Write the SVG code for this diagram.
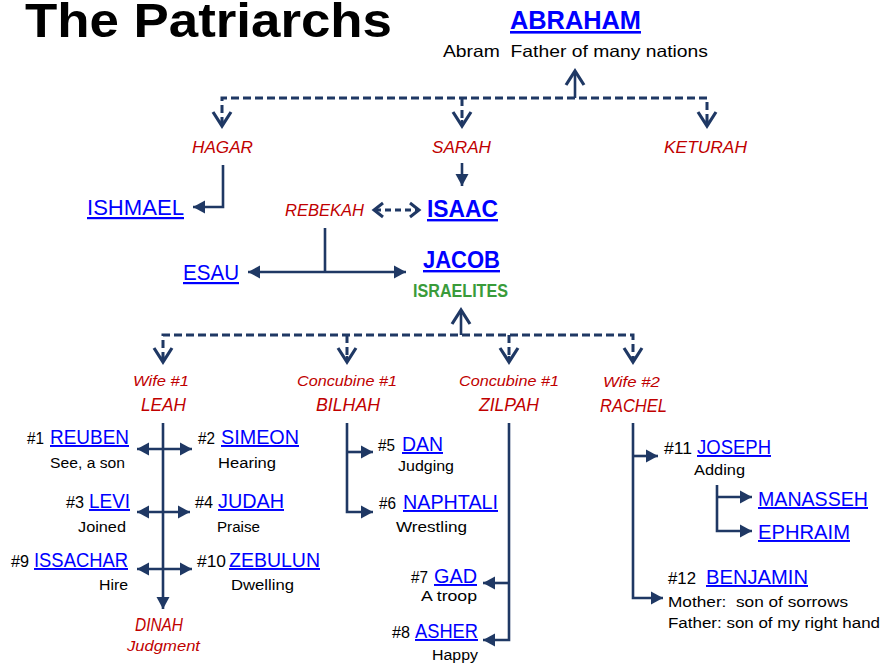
<svg xmlns="http://www.w3.org/2000/svg" width="883" height="665" viewBox="0 0 883 665">
<defs>
<style>
text{font-family:"Liberation Sans",Arial,sans-serif;white-space:pre}
.title{font-size:48px;font-weight:bold;fill:#000}
.link{fill:#0000FF;text-decoration:underline}
.big{font-weight:bold}
.name{font-size:19.5px}
.num{font-size:16px;fill:#000}
.sub{font-size:15.5px;fill:#000}
.red{fill:#C00000;font-style:italic}
.green{fill:#3A9B3A;font-weight:bold}
.ln{fill:none;stroke:#1F3864;stroke-width:2.6}
.dash{fill:none;stroke:#1F3864;stroke-width:3;stroke-dasharray:8 4}
</style>
<marker id="chev" markerUnits="userSpaceOnUse" markerWidth="40" markerHeight="40" refX="0" refY="0" viewBox="-20 -20 40 40" orient="auto" overflow="visible">
<path d="M-14,-9 L0,0 L-14,9" fill="none" stroke="#1F3864" stroke-width="3.2" stroke-linejoin="miter"/>
</marker>
<marker id="chevs" markerUnits="userSpaceOnUse" markerWidth="40" markerHeight="40" refX="0" refY="0" viewBox="-20 -20 40 40" orient="auto-start-reverse" overflow="visible">
<path d="M-9,-7 L0,0 L-9,7" fill="none" stroke="#1F3864" stroke-width="3" stroke-linejoin="miter"/>
</marker>
<marker id="tri" markerUnits="userSpaceOnUse" markerWidth="40" markerHeight="40" refX="0" refY="0" viewBox="-20 -20 40 40" orient="auto-start-reverse" overflow="visible">
<path d="M-12,-6.5 L0,0 L-12,6.5 Z" fill="#1F3864"/>
</marker>
</defs>
<rect width="883" height="665" fill="#fff"/>

<g id="connectors">
<!-- Abraham -->
<path class="ln" d="M575,98 L575,71" marker-end="url(#chev)"/>
<path class="dash" d="M222,125 L222,98 L707,98 L707,125"/>
<path class="ln" d="M222,120 L222,126" marker-end="url(#chev)"/>
<path class="dash" d="M462,98 L462,125"/>
<path class="ln" d="M462,120 L462,126" marker-end="url(#chev)"/>
<path class="ln" d="M707,120 L707,126" marker-end="url(#chev)"/>
<!-- Hagar to Ishmael -->
<path class="ln" d="M223,165 L223,207 L193,207" marker-end="url(#tri)"/>
<!-- Sarah to Isaac -->
<path class="ln" d="M462,163 L462,186" marker-end="url(#tri)"/>
<!-- Rebekah and Isaac -->
<path class="dash" d="M375,210 L418,210" style="stroke-dasharray:6 4"/>
<path class="ln" d="M374,210 L376,210" marker-start="url(#chevs)"/>
<path class="ln" d="M417,210 L419,210" marker-end="url(#chevs)"/>
<!-- Esau / Jacob -->
<path class="ln" d="M325,228 L325,272"/>
<path class="ln" d="M248,272 L406,272" marker-start="url(#tri)" marker-end="url(#tri)"/>
<!-- Jacob tribes -->
<path class="ln" d="M461,335 L461,310" marker-end="url(#chev)"/>
<path class="dash" d="M163,360 L163,335 L633,335 L633,360"/>
<path class="dash" d="M347,335 L347,360"/>
<path class="dash" d="M509,335 L509,360"/>
<path class="ln" d="M163,356 L163,362" marker-end="url(#chev)"/>
<path class="ln" d="M347,356 L347,362" marker-end="url(#chev)"/>
<path class="ln" d="M509,356 L509,362" marker-end="url(#chev)"/>
<path class="ln" d="M633,356 L633,362" marker-end="url(#chev)"/>
<!-- Leah -->
<path class="ln" d="M163,423 L163,609" marker-end="url(#tri)"/>
<path class="ln" d="M137,449 L192,449" marker-start="url(#tri)" marker-end="url(#tri)"/>
<path class="ln" d="M137,512 L190,512" marker-start="url(#tri)" marker-end="url(#tri)"/>
<path class="ln" d="M137,569 L192,569" marker-start="url(#tri)" marker-end="url(#tri)"/>
<!-- Bilhah -->
<path class="ln" d="M347,423 L347,512 L373,512" marker-end="url(#tri)"/>
<path class="ln" d="M347,452 L373,452" marker-end="url(#tri)"/>
<!-- Zilpah -->
<path class="ln" d="M509,423 L509,640 L483,640" marker-end="url(#tri)"/>
<path class="ln" d="M509,583 L483,583" marker-end="url(#tri)"/>
<!-- Rachel -->
<path class="ln" d="M633,423 L633,598 L663,598" marker-end="url(#tri)"/>
<path class="ln" d="M633,456 L658,456" marker-end="url(#tri)"/>
<!-- Joseph -->
<path class="ln" d="M717,485 L717,531 L752,531" marker-end="url(#tri)"/>
<path class="ln" d="M717,497 L752,497" marker-end="url(#tri)"/>
</g>

<g id="title"><text class="title" x="25" y="37" textLength="367" lengthAdjust="spacingAndGlyphs">The Patriarchs</text></g>

<g id="abraham">
<text class="link big" x="510" y="29" font-size="26" textLength="131" lengthAdjust="spacingAndGlyphs">ABRAHAM</text>
<text x="443" y="57" font-size="16.5" textLength="265" lengthAdjust="spacingAndGlyphs">Abram  Father of many nations</text>
</g>
<g id="hagar"><text class="red" x="192" y="153" font-size="16.5" textLength="61" lengthAdjust="spacingAndGlyphs">HAGAR</text></g>
<g id="sarah"><text class="red" x="432" y="153" font-size="16.5" textLength="59" lengthAdjust="spacingAndGlyphs">SARAH</text></g>
<g id="keturah"><text class="red" x="664" y="153" font-size="16.5" textLength="83" lengthAdjust="spacingAndGlyphs">KETURAH</text></g>
<g id="ishmael"><text class="link" x="87" y="215" font-size="22" textLength="97" lengthAdjust="spacingAndGlyphs">ISHMAEL</text></g>
<g id="rebekah"><text class="red" x="285" y="216" font-size="16.5" textLength="79" lengthAdjust="spacingAndGlyphs">REBEKAH</text></g>
<g id="isaac"><text class="link big" x="427" y="217" font-size="24" textLength="71" lengthAdjust="spacingAndGlyphs">ISAAC</text></g>
<g id="esau"><text class="link" x="183" y="280" font-size="22" textLength="56" lengthAdjust="spacingAndGlyphs">ESAU</text></g>
<g id="jacob">
<text class="link big" x="423" y="268" font-size="24" textLength="77" lengthAdjust="spacingAndGlyphs">JACOB</text>
<text class="green" x="413" y="297" font-size="17.5" textLength="95" lengthAdjust="spacingAndGlyphs">ISRAELITES</text>
</g>

<g id="leah">
<text class="red" x="133" y="386" font-size="15.5" textLength="56" lengthAdjust="spacingAndGlyphs">Wife #1</text>
<text class="red" x="141" y="411" font-size="17.5" textLength="45" lengthAdjust="spacingAndGlyphs">LEAH</text>
</g>
<g id="bilhah">
<text class="red" x="297" y="386" font-size="15.5" textLength="100" lengthAdjust="spacingAndGlyphs">Concubine #1</text>
<text class="red" x="316" y="411" font-size="17.5" textLength="64" lengthAdjust="spacingAndGlyphs">BILHAH</text>
</g>
<g id="zilpah">
<text class="red" x="459" y="386" font-size="15.5" textLength="100" lengthAdjust="spacingAndGlyphs">Concubine #1</text>
<text class="red" x="479" y="411" font-size="17.5" textLength="60" lengthAdjust="spacingAndGlyphs">ZILPAH</text>
</g>
<g id="rachel">
<text class="red" x="603" y="387" font-size="15.5" textLength="57" lengthAdjust="spacingAndGlyphs">Wife #2</text>
<text class="red" x="600" y="412" font-size="17.5" textLength="67" lengthAdjust="spacingAndGlyphs">RACHEL</text>
</g>

<g id="reuben">
<text class="num" x="27" y="444" textLength="17" lengthAdjust="spacingAndGlyphs">#1</text>
<text class="link name" x="50" y="444" textLength="79" lengthAdjust="spacingAndGlyphs">REUBEN</text>
<text class="sub" x="50" y="468" textLength="75" lengthAdjust="spacingAndGlyphs">See, a son</text>
</g>
<g id="simeon">
<text class="num" x="198" y="444" textLength="17" lengthAdjust="spacingAndGlyphs">#2</text>
<text class="link name" x="221" y="444" textLength="78" lengthAdjust="spacingAndGlyphs">SIMEON</text>
<text class="sub" x="218" y="468" textLength="58" lengthAdjust="spacingAndGlyphs">Hearing</text>
</g>
<g id="levi">
<text class="num" x="66" y="508" textLength="18" lengthAdjust="spacingAndGlyphs">#3</text>
<text class="link name" x="89" y="508" textLength="41" lengthAdjust="spacingAndGlyphs">LEVI</text>
<text class="sub" x="78" y="532" textLength="48" lengthAdjust="spacingAndGlyphs">Joined</text>
</g>
<g id="judah">
<text class="num" x="195" y="508" textLength="18" lengthAdjust="spacingAndGlyphs">#4</text>
<text class="link name" x="218" y="508" textLength="66" lengthAdjust="spacingAndGlyphs">JUDAH</text>
<text class="sub" x="217" y="532" textLength="43" lengthAdjust="spacingAndGlyphs">Praise</text>
</g>
<g id="issachar">
<text class="num" x="11" y="567" textLength="18" lengthAdjust="spacingAndGlyphs">#9</text>
<text class="link name" x="34" y="567" textLength="94" lengthAdjust="spacingAndGlyphs">ISSACHAR</text>
<text class="sub" x="99" y="590" textLength="29" lengthAdjust="spacingAndGlyphs">Hire</text>
</g>
<g id="zebulun">
<text class="num" x="197" y="567" textLength="29" lengthAdjust="spacingAndGlyphs">#10</text>
<text class="link name" x="229" y="567" textLength="91" lengthAdjust="spacingAndGlyphs">ZEBULUN</text>
<text class="sub" x="231" y="590" textLength="63" lengthAdjust="spacingAndGlyphs">Dwelling</text>
</g>
<g id="dinah">
<text class="red" x="135" y="631" font-size="17.5" textLength="48" lengthAdjust="spacingAndGlyphs">DINAH</text>
<text class="red" x="127" y="651" font-size="15.5" textLength="73" lengthAdjust="spacingAndGlyphs">Judgment</text>
</g>

<g id="dan">
<text class="num" x="378" y="451" textLength="17" lengthAdjust="spacingAndGlyphs">#5</text>
<text class="link name" x="402" y="451" textLength="41" lengthAdjust="spacingAndGlyphs">DAN</text>
<text class="sub" x="398" y="471" textLength="56" lengthAdjust="spacingAndGlyphs">Judging</text>
</g>
<g id="naphtali">
<text class="num" x="379" y="509" textLength="17" lengthAdjust="spacingAndGlyphs">#6</text>
<text class="link name" x="403" y="509" textLength="95" lengthAdjust="spacingAndGlyphs">NAPHTALI</text>
<text class="sub" x="396" y="532" textLength="71" lengthAdjust="spacingAndGlyphs">Wrestling</text>
</g>
<g id="gad">
<text class="num" x="411" y="583" textLength="17" lengthAdjust="spacingAndGlyphs">#7</text>
<text class="link name" x="434" y="583" textLength="43" lengthAdjust="spacingAndGlyphs">GAD</text>
<text class="sub" x="421" y="601" textLength="56" lengthAdjust="spacingAndGlyphs">A troop</text>
</g>
<g id="asher">
<text class="num" x="392" y="638" textLength="18" lengthAdjust="spacingAndGlyphs">#8</text>
<text class="link name" x="415" y="638" textLength="63" lengthAdjust="spacingAndGlyphs">ASHER</text>
<text class="sub" x="432" y="660" textLength="46" lengthAdjust="spacingAndGlyphs">Happy</text>
</g>

<g id="joseph">
<text class="num" x="664" y="454" textLength="28" lengthAdjust="spacingAndGlyphs">#11</text>
<text class="link name" x="697" y="454" textLength="74" lengthAdjust="spacingAndGlyphs">JOSEPH</text>
<text class="sub" x="694" y="475" textLength="51" lengthAdjust="spacingAndGlyphs">Adding</text>
</g>
<g id="manasseh"><text class="link name" x="758" y="506" textLength="110" lengthAdjust="spacingAndGlyphs">MANASSEH</text></g>
<g id="ephraim"><text class="link name" x="758" y="539" textLength="92" lengthAdjust="spacingAndGlyphs">EPHRAIM</text></g>
<g id="benjamin">
<text class="num" x="668" y="584" textLength="28" lengthAdjust="spacingAndGlyphs">#12</text>
<text class="link name" x="706" y="584" textLength="102" lengthAdjust="spacingAndGlyphs">BENJAMIN</text>
<text class="sub" x="668" y="607" textLength="180" lengthAdjust="spacingAndGlyphs">Mother:  son of sorrows</text>
<text class="sub" x="668" y="628" textLength="212" lengthAdjust="spacingAndGlyphs">Father: son of my right hand</text>
</g>
</svg>
